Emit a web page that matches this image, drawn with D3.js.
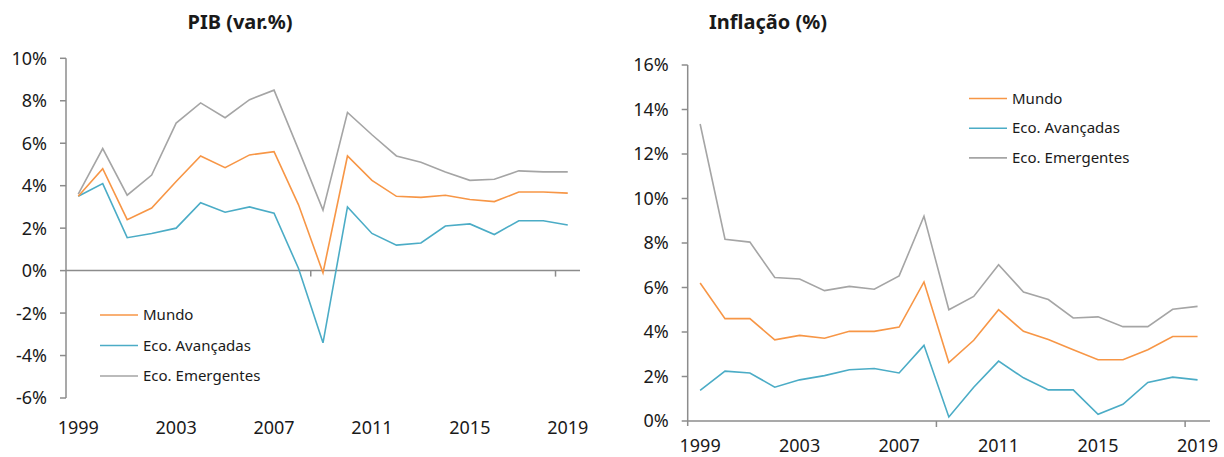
<!DOCTYPE html>
<html>
<head>
<meta charset="utf-8">
<script src="https://cdn.jsdelivr.net/npm/d3@7"></script>
<style>
  body { margin: 0; background: #fff; }
  svg text { font-family: "Noto Sans", "Open Sans", sans-serif; fill: #1a1a1a; }
</style>
</head>
<body>
<svg id="chart" width="1224" height="457"></svg>
<script>
const years = d3.range(1999, 2020);
const yearLabels = [1999, 2003, 2007, 2011, 2015, 2019];

// PIB (var.%)
const pibMundo = [3.5, 4.8, 2.4, 2.95, 4.2, 5.4, 4.85, 5.45, 5.6, 3.1, -0.1, 5.4, 4.25, 3.5, 3.45, 3.55, 3.35, 3.25, 3.7, 3.7, 3.65];
const pibAvancadas = [3.5, 4.1, 1.55, 1.75, 2.0, 3.2, 2.75, 3.0, 2.7, 0.1, -3.4, 3.0, 1.75, 1.2, 1.3, 2.1, 2.2, 1.7, 2.35, 2.35, 2.15];
const pibEmergentes = [3.6, 5.75, 3.55, 4.5, 6.95, 7.9, 7.2, 8.05, 8.5, 5.7, 2.85, 7.45, 6.4, 5.4, 5.1, 4.65, 4.25, 4.3, 4.7, 4.65, 4.65];
const pibTicks = [-6, -4, -2, 0, 2, 4, 6, 8, 10];

// Inflação (%)
const infMundo = [6.2, 4.6, 4.6, 3.65, 3.85, 3.72, 4.03, 4.03, 4.22, 6.25, 2.63, 3.63, 5.0, 4.03, 3.66, 3.2, 2.75, 2.75, 3.2, 3.8, 3.8];
const infAvancadas = [1.38, 2.24, 2.16, 1.52, 1.85, 2.04, 2.3, 2.36, 2.16, 3.4, 0.18, 1.52, 2.69, 1.94, 1.4, 1.4, 0.3, 0.75, 1.73, 1.97, 1.85];
const infEmergentes = [13.35, 8.17, 8.04, 6.45, 6.38, 5.86, 6.05, 5.92, 6.52, 9.2, 5.0, 5.6, 7.02, 5.8, 5.46, 4.63, 4.68, 4.24, 4.24, 5.02, 5.15];
const infTicks = [0, 2, 4, 6, 8, 10, 12, 14, 16];

const seriesNames = ["Mundo", "Eco. Avançadas", "Eco. Emergentes"];
const colors = ["#f79646", "#4bacc6", "#a5a5a5"];
const axisColor = "#8c8c8c";

const svg = d3.select("#chart");

function drawPanel(opts) {
  const g = svg.append("g");
  const x = d3.scaleBand().domain(years).range([opts.left, opts.right]);
  const y = d3.scaleLinear().domain(opts.yDomain).range([opts.bottom, opts.top]);
  const cx = d => x(d) + x.bandwidth() / 2;

  // title
  g.append("text")
    .attr("x", opts.titleX).attr("y", 29)
    .attr("text-anchor", "middle")
    .style("font-size", "20px").style("font-weight", "bold")
    .text(opts.title);

  // y axis (runs a little below 0 when the axis starts at 0)
  g.append("line")
    .attr("x1", opts.left).attr("x2", opts.left)
    .attr("y1", y(opts.yDomain[1])).attr("y2", y(opts.yDomain[0]) + (opts.yDomain[0] === 0 ? 5 : 0))
    .attr("stroke", axisColor).attr("stroke-width", 1.5);
  opts.yTicks.forEach(t => {
    g.append("line")
      .attr("x1", opts.left - 6).attr("x2", opts.left)
      .attr("y1", y(t)).attr("y2", y(t))
      .attr("stroke", axisColor).attr("stroke-width", 1.5);
    g.append("text")
      .attr("x", opts.left - 19).attr("y", y(t))
      .attr("dy", "0.36em").attr("text-anchor", "end")
      .style("font-size", "18px")
      .text(t + "%");
  });

  // x axis at 0, tick marks every 10 categories
  g.append("line")
    .attr("x1", opts.left).attr("x2", opts.right)
    .attr("y1", y(0)).attr("y2", y(0))
    .attr("stroke", axisColor).attr("stroke-width", 1.5);
  [10, 20].forEach(i => {
    const xx = x(years[i]);
    g.append("line")
      .attr("x1", xx).attr("x2", xx)
      .attr("y1", y(0)).attr("y2", y(0) + 6)
      .attr("stroke", axisColor).attr("stroke-width", 1.5);
  });
  yearLabels.forEach(yr => {
    g.append("text")
      .attr("x", cx(yr)).attr("y", opts.labelY)
      .attr("text-anchor", "middle")
      .style("font-size", "18px")
      .text(yr);
  });

  // lines, emergentes drawn first so mundo sits on top
  const line = d3.line().x((d, i) => cx(years[i])).y(d => y(d));
  opts.series.slice().reverse().forEach((s, j) => {
    const k = opts.series.length - 1 - j;
    g.append("path")
      .attr("d", line(s))
      .attr("fill", "none")
      .attr("stroke", colors[k])
      .attr("stroke-width", 1.6)
      .attr("stroke-linejoin", "miter");
  });

  // legend
  seriesNames.forEach((name, i) => {
    const ly = opts.legendY + i * opts.legendGap;
    g.append("line")
      .attr("x1", opts.legendX).attr("x2", opts.legendX + 38)
      .attr("y1", ly).attr("y2", ly)
      .attr("stroke", colors[i]).attr("stroke-width", 1.6);
    g.append("text")
      .attr("x", opts.legendX + 43).attr("y", ly)
      .attr("dy", "0.35em")
      .style("font-size", "15px")
      .text(name);
  });
}

drawPanel({
  title: "PIB (var.%)", titleX: 240,
  left: 66, right: 580, top: 58.3, bottom: 398,
  yDomain: [-6, 10], yTicks: pibTicks,
  labelY: 434,
  series: [pibMundo, pibAvancadas, pibEmergentes],
  legendX: 100, legendY: 315, legendGap: 30.5
});

drawPanel({
  title: "Inflação (%)", titleX: 768,
  left: 687.7, right: 1210, top: 65, bottom: 421,
  yDomain: [0, 16], yTicks: infTicks,
  labelY: 452,
  series: [infMundo, infAvancadas, infEmergentes],
  legendX: 969, legendY: 98.5, legendGap: 29.7
});
</script>
</body>
</html>
